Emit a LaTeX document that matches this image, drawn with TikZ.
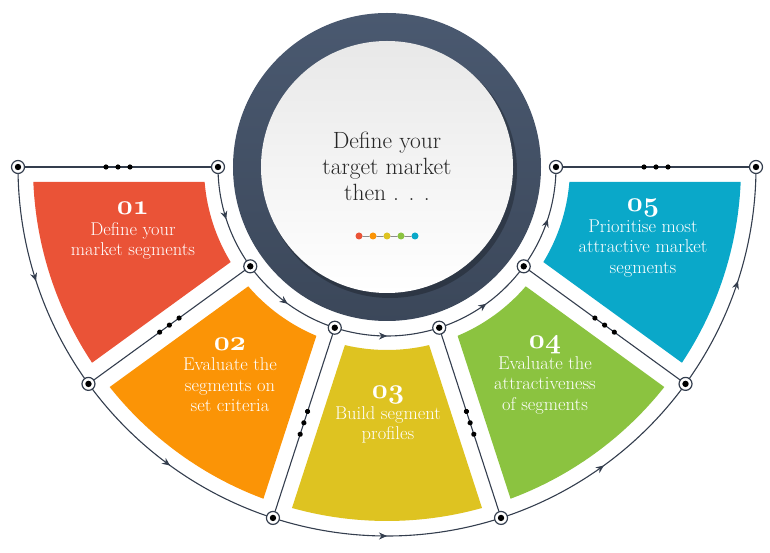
\documentclass[tikz,border=0pt]{standalone}
\usepackage{graphicx}
\usetikzlibrary{arrows.meta}
\usetikzlibrary{decorations.markings}
\definecolor{segred}{RGB}{234,83,55}
\definecolor{segorange}{RGB}{251,148,6}
\definecolor{segyellow}{RGB}{222,195,33}
\definecolor{seggreen}{RGB}{139,195,64}
\definecolor{segblue}{RGB}{10,168,201}
\definecolor{ringc}{RGB}{74,89,112}
\definecolor{linec}{RGB}{52,62,78}
\pgfdeclarelayer{front}
\pgfsetlayers{main,front}
\tikzset{
  conn/.style={draw=linec, line width=1.1pt},
  flow/.style={conn, postaction={decorate}, decoration={markings, mark=at position 0.5 with {\arrow{Stealth[length=8pt,width=7pt]}}}},
  dotline/.style={conn, postaction={decorate}, decoration={markings, mark=at position 0.5 with {\fill[black] (-12pt,0) circle (2.6pt) (0,0) circle (2.6pt) (12pt,0) circle (2.6pt);}}},
  jn/.style={circle, draw=linec, line width=1.2pt, fill=white, minimum size=13pt, inner sep=0pt, path picture={\fill[black] (path picture bounding box.center) circle (3.2pt);}},
  steptext/.style={text=white, align=center, font=\fontsize{18.5}{20.5}\selectfont},
  cdot/.style={circle, inner sep=0pt, minimum size=7pt}
}
\newcommand{\stepnum}[1]{\scalebox{1.12}{\fontsize{24.88}{20}\usefont{OML}{cmm}{b}{it}#1}}
\begin{document}
\begin{tikzpicture}[line cap=round,line join=round,x=1pt,y=1pt]
\useasboundingbox (-387,-386) rectangle (383,167);
\fill[segred] (184.70:183) -- (182.43:354) arc[start angle=182.43,end angle=213.57,radius=354] -- (211.30:183) arc[start angle=211.30,end angle=184.70,radius=183] -- cycle;
\fill[segorange] (220.70:183) -- (218.43:354) arc[start angle=218.43,end angle=249.57,radius=354] -- (247.30:183) arc[start angle=247.30,end angle=220.70,radius=183] -- cycle;
\fill[segyellow] (256.70:183) -- (254.43:354) arc[start angle=254.43,end angle=285.57,radius=354] -- (283.30:183) arc[start angle=283.30,end angle=256.70,radius=183] -- cycle;
\fill[seggreen] (292.70:183) -- (290.43:354) arc[start angle=290.43,end angle=321.57,radius=354] -- (319.30:183) arc[start angle=319.30,end angle=292.70,radius=183] -- cycle;
\fill[segblue] (328.70:183) -- (326.43:354) arc[start angle=326.43,end angle=357.57,radius=354] -- (355.30:183) arc[start angle=355.30,end angle=328.70,radius=183] -- cycle;
\shade[top color=ringc, middle color=ringc, bottom color=ringc!80!black] (0,0) circle (154);
\fill[black, opacity=0.25] (3,-4) circle (127);
\shade[top color=black!9, bottom color=white] (0,0) circle (126);
\node[font=\fontsize{23.5}{26}\selectfont, align=center, text=black!85] (goal) at (0,1) {Define your\\target market\\then . . .};
\node[cdot, fill=segred] (d1) at (-28,-69) {};
\node[cdot, fill=segorange] (d2) at (-14,-69) {};
\node[cdot, fill=segyellow] (d3) at (0,-69) {};
\node[cdot, fill=seggreen] (d4) at (14,-69) {};
\node[cdot, fill=segblue] (d5) at (28,-69) {};
\draw[black!45, line width=0.8pt] (d1) -- (d2) (d2) -- (d3) (d3) -- (d4) (d4) -- (d5);
\node[steptext] (s1) at (-254,-64) {\stepnum{01}\\Define your\\market segments};
\node[steptext] (s2) at (-157,-208) {\stepnum{02}\\Evaluate the\\segments on\\set criteria};
\node[steptext] (s3) at (1,-248) {\stepnum{03}\\Build segment\\profiles};
\node[steptext] (s4) at (158,-208) {\stepnum{04}\\Evaluate the\\attractiveness\\of segments};
\node[steptext] (s5) at (256,-71) {\stepnum{05}\\Prioritise most\\attractive market\\segments};
\begin{pgfonlayer}{front}
\node[jn] (i0) at (180:169) {};
\node[jn] (i1) at (216:169) {};
\node[jn] (i2) at (252:169) {};
\node[jn] (i3) at (288:169) {};
\node[jn] (i4) at (324:169) {};
\node[jn] (i5) at (360:169) {};
\node[jn] (o0) at (180:369) {};
\node[jn] (o1) at (216:369) {};
\node[jn] (o2) at (252:369) {};
\node[jn] (o3) at (288:369) {};
\node[jn] (o4) at (324:369) {};
\node[jn] (o5) at (360:369) {};
\end{pgfonlayer}
\draw[dotline] (o0) -- (i0);
\draw[dotline] (o1) -- (i1);
\draw[dotline] (o2) -- (i2);
\draw[dotline] (o3) -- (i3);
\draw[dotline] (o4) -- (i4);
\draw[dotline] (i5) -- (o5);
\draw[flow] (i0.center) arc[start angle=180,end angle=216,radius=169];
\draw[flow] (i1.center) arc[start angle=216,end angle=252,radius=169];
\draw[flow] (i2.center) arc[start angle=252,end angle=288,radius=169];
\draw[flow] (i3.center) arc[start angle=288,end angle=324,radius=169];
\draw[flow] (i4.center) arc[start angle=324,end angle=360,radius=169];
\draw[flow] (o0.center) arc[start angle=180,end angle=216,radius=369];
\draw[flow] (o1.center) arc[start angle=216,end angle=252,radius=369];
\draw[flow] (o2.center) arc[start angle=252,end angle=288,radius=369];
\draw[flow] (o3.center) arc[start angle=288,end angle=324,radius=369];
\draw[flow] (o4.center) arc[start angle=324,end angle=360,radius=369];
\end{tikzpicture}
\end{document}
